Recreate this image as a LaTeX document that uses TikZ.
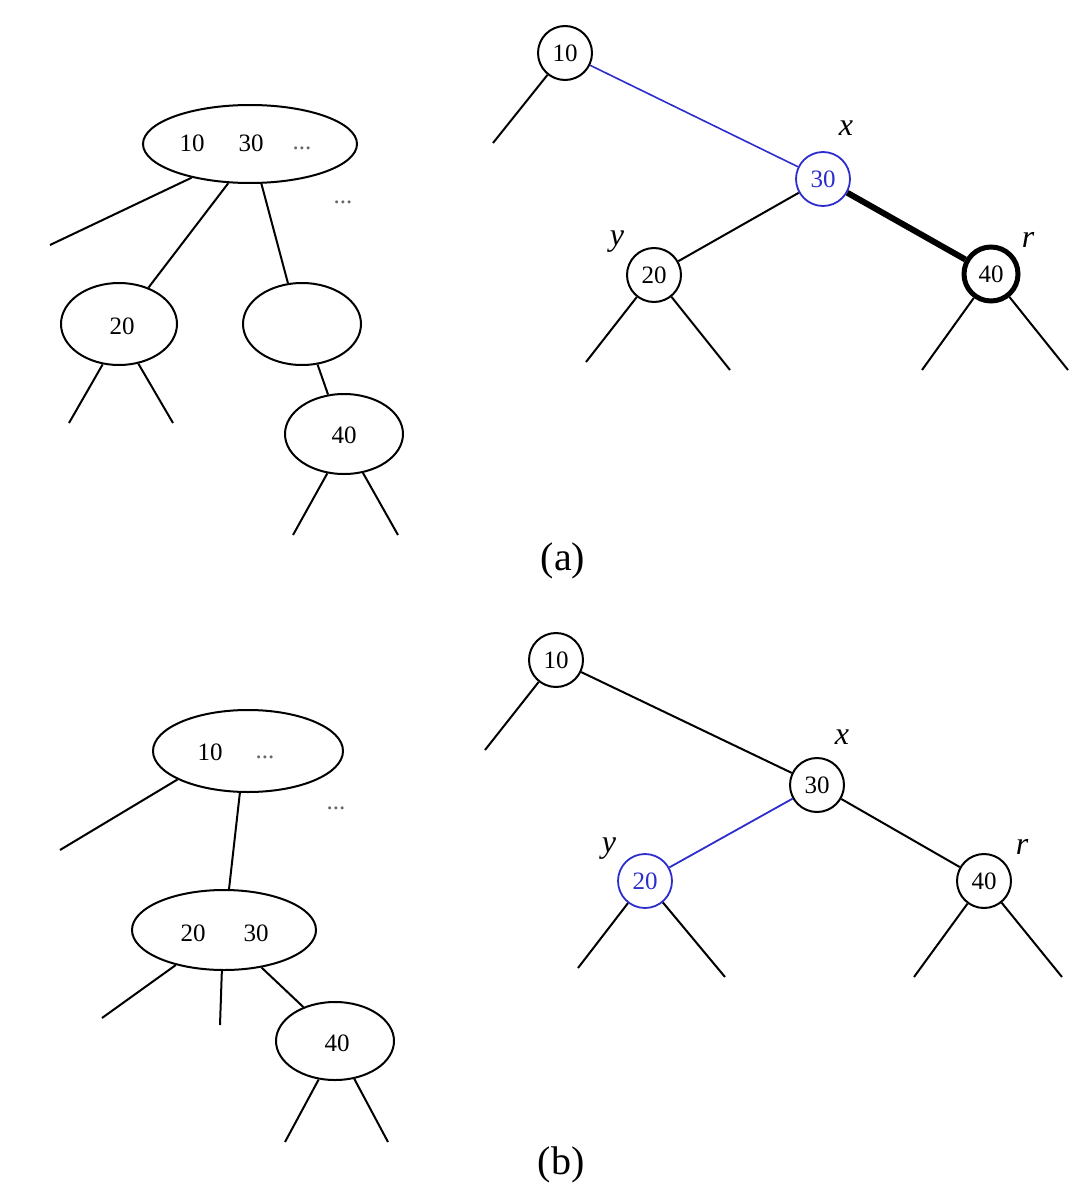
\documentclass[tikz,border=0pt]{standalone}
\usepackage{fontspec}
\setmainfont{Liberation Serif}
\usetikzlibrary{shapes.geometric}
\definecolor{myblue}{RGB}{45,45,205}
\begin{document}
\begin{tikzpicture}[x=0.5pt,y=-0.5pt,
 tline/.style={line width=1pt},
 ell/.style={draw,ellipse,line width=1pt,inner sep=0pt},
 circ/.style={draw,circle,line width=1pt,inner sep=0pt,minimum size=27pt,font=\fontsize{12.5}{14}\selectfont},
 num/.style={inner sep=0pt,font=\fontsize{12.5}{14}\selectfont},
 dotstxt/.style={inner sep=0pt,font=\fontsize{12.5}{14}\selectfont,text=black!60},
 lab/.style={inner sep=0pt,font=\fontsize{16}{19}\selectfont\itshape},
 captext/.style={inner sep=0pt,font=\fontsize{20}{23}\selectfont}]
\useasboundingbox (0,0) rectangle (1080,1188);

% ---------- top left B-tree ----------
\node[ell,minimum width=107pt,minimum height=39pt] (E1) at (250,144) {};
\node[num] (E1a) at (192,143) {10};
\node[num] (E1b) at (251,143) {30};
\node[dotstxt] (E1c) at (302,148) {...};
\node[dotstxt] (D1) at (343,202) {...};
\node[ell,minimum width=58pt,minimum height=41pt] (E2) at (119,324) {};
\node[num] (E2a) at (122,326) {20};
\node[ell,minimum width=59pt,minimum height=41pt] (E3) at (302,324) {};
\node[ell,minimum width=59pt,minimum height=40pt] (E4) at (344,434) {};
\node[num] (E4a) at (344,435) {40};
\coordinate (f1) at (50,245);
\coordinate (f2) at (69,423);
\coordinate (f3) at (173,423);
\coordinate (f4) at (293,535);
\coordinate (f5) at (398,535);
\draw[tline] (E1.-150) -- (f1);
\draw[tline] (E1.-119) -- (E2.51);
\draw[tline] (E1.-74) -- (E3.109);
\draw[tline] (E2.-112) -- (f2);
\draw[tline] (E2.-64) -- (f3);
\draw[tline] (E3.-69) -- (E4.112);
\draw[tline] (E4.-113) -- (f4);
\draw[tline] (E4.-64) -- (f5);

% ---------- top right binary tree ----------
\node[circ] (A10) at (565,53) {10};
\node[circ,draw=myblue,text=myblue,line width=0.9pt] (A30) at (823,179) {30};
\node[circ] (A20) at (654,275) {20};
\node[circ,line width=2.5pt] (A40) at (991,274) {40};
\node[lab] (Ax) at (846,128) {x};
\node[lab] (Ay) at (617,242) {y};
\node[lab] (Ar) at (1028,240) {r};
\coordinate (g1) at (493,143);
\coordinate (g2) at (586,362);
\coordinate (g3) at (730,370);
\coordinate (g4) at (922,370);
\coordinate (g5) at (1068,370);
\draw[tline] (A10) -- (g1);
\draw[line width=0.8pt,myblue] (A10) -- (A30);
\draw[tline] (A30) -- (A20);
\draw[line width=3pt] (A30) -- (A40);
\draw[tline] (A20) -- (g2);
\draw[tline] (A20) -- (g3);
\draw[tline] (A40) -- (g4);
\draw[tline] (A40) -- (g5);

\node[captext] (capa) at (563,561) {(a)};

% ---------- bottom left B-tree ----------
\node[ell,minimum width=95pt,minimum height=41pt] (E5) at (248,751) {};
\node[num] (E5a) at (210,752) {10};
\node[dotstxt] (E5b) at (265,757) {...};
\node[dotstxt] (D2) at (336,808) {...};
\node[ell,minimum width=92pt,minimum height=40pt] (E6) at (224,930) {};
\node[num] (E6a) at (193,933) {20};
\node[num] (E6b) at (256,933) {30};
\node[ell,minimum width=59pt,minimum height=39pt] (E7) at (335,1041) {};
\node[num] (E7a) at (337,1043) {40};
\coordinate (h1) at (60,850);
\coordinate (h2) at (102,1018);
\coordinate (h3) at (220,1025);
\coordinate (h4) at (285,1142);
\coordinate (h5) at (388,1142);
\draw[tline] (E5.-158) -- (h1);
\draw[tline] (E5.-101) -- (E6.83);
\draw[tline] (E6.-144) -- (h2);
\draw[tline] (E6.-93) -- (h3);
\draw[tline] (E6.-45) -- (E7.133);
\draw[tline] (E7.-113) -- (h4);
\draw[tline] (E7.-63) -- (h5);

% ---------- bottom right binary tree ----------
\node[circ] (B10) at (556,660) {10};
\node[circ] (B30) at (817,785) {30};
\node[circ,draw=myblue,text=myblue,line width=0.9pt] (B20) at (645,881) {20};
\node[circ] (B40) at (984,881) {40};
\node[lab] (Bx) at (842,737) {x};
\node[lab] (By) at (609,849) {y};
\node[lab] (Br) at (1022,847) {r};
\coordinate (k1) at (485,750);
\coordinate (k2) at (578,968);
\coordinate (k3) at (725,977);
\coordinate (k4) at (914,977);
\coordinate (k5) at (1062,977);
\draw[tline] (B10) -- (k1);
\draw[tline] (B10) -- (B30);
\draw[line width=0.9pt,myblue] (B30) -- (B20);
\draw[tline] (B30) -- (B40);
\draw[tline] (B20) -- (k2);
\draw[tline] (B20) -- (k3);
\draw[tline] (B40) -- (k4);
\draw[tline] (B40) -- (k5);

\node[captext] (capb) at (561,1165) {(b)};
\end{tikzpicture}
\end{document}
